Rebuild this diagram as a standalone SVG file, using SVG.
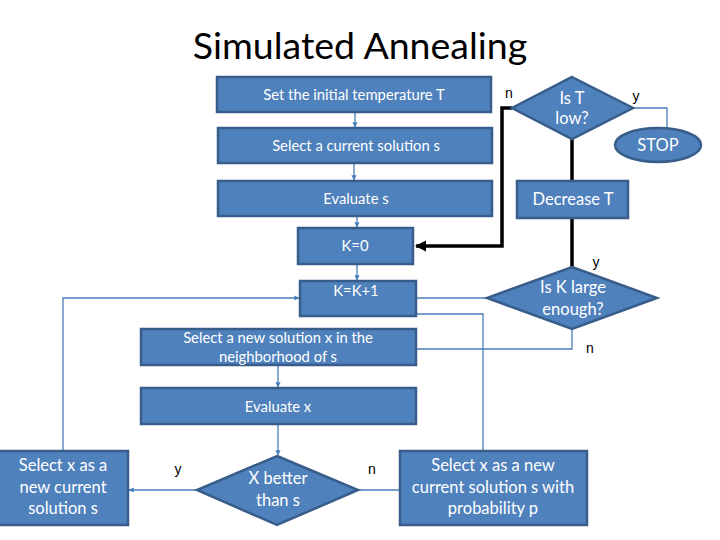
<svg xmlns="http://www.w3.org/2000/svg" width="720" height="540" viewBox="0 0 720 540">
<defs>
<style>
.box{fill:#4F81BD;stroke:#385D8A;stroke-width:2.5}
.t{fill:#ffffff;font-family:Lato,"Liberation Sans",sans-serif;text-anchor:middle}
.s13{font-size:14.8px}
.s15{font-size:16.5px}
.lbl{fill:#000;font-family:"Liberation Sans",Arial,sans-serif;font-size:14px;text-anchor:middle}
.thin{fill:none;stroke:#4A7EBB;stroke-width:1.3}
.thick{fill:none;stroke:#000;stroke-width:3.5}
</style>
<marker id="ab" viewBox="0 0 10 10" refX="9" refY="5" markerWidth="4" markerHeight="4" orient="auto"><path d="M0,0 L10,5 L0,10 z" fill="#4A7EBB"/></marker>
<marker id="ak" viewBox="0 0 10 10" refX="9" refY="5" markerWidth="3.2" markerHeight="3.2" orient="auto"><path d="M0,0 L10,5 L0,10 z" fill="#000"/></marker>
</defs>
<rect width="720" height="540" fill="#ffffff"/>
<text x="360" y="59" font-family="Lato,'Liberation Sans',sans-serif" font-size="37.5" text-anchor="middle" fill="#000">Simulated Annealing</text>

<g id="connectors">
<path class="thin" d="M355,112 V127" marker-end="url(#ab)"/>
<path class="thin" d="M354,163 V180" marker-end="url(#ab)"/>
<path class="thin" d="M357,216 V227" marker-end="url(#ab)"/>
<path class="thin" d="M357,264 V280" marker-end="url(#ab)"/>
<path class="thin" d="M633,108 H667 V128"/>
<path class="thick" d="M512,108 H502 V246 H416" marker-end="url(#ak)"/>
<path class="thick" d="M572,139 V181"/>
<path class="thick" d="M572,218 V267"/>
<path class="thin" d="M63,451 V298 H299" marker-end="url(#ab)"/>
<path class="thin" d="M416,298 H487"/>
<path class="thin" d="M483,451 V314 H417"/>
<path class="thin" d="M572,329 V349 H416"/>
<path class="thin" d="M278,365 V387" marker-end="url(#ab)"/>
<path class="thin" d="M278,424 V455" marker-end="url(#ab)"/>
<path class="thin" d="M197,490 H129" marker-end="url(#ab)"/>
<path class="thin" d="M358,490 H400"/>
</g>

<g id="n-set-temp"><rect class="box" x="217" y="77" width="274" height="35"/><text class="t s13" x="354" y="100">Set the initial temperature T</text></g>
<g id="n-select-current"><rect class="box" x="218" y="128" width="274" height="35"/><text class="t s13" x="356" y="151">Select a current solution s</text></g>
<g id="n-evaluate-s"><rect class="box" x="218" y="181" width="274" height="35"/><text class="t s13" x="356" y="204">Evaluate s</text></g>
<g id="n-k0"><rect class="box" x="298" y="228" width="115" height="36"/><text class="t s13" x="355" y="251">K=0</text></g>
<g id="n-kk1"><rect class="box" x="300" y="281" width="116" height="35"/><text class="t s13" x="356" y="296">K=K+1</text></g>
<g id="n-select-new"><rect class="box" x="141" y="329" width="275" height="36"/><text class="t s13" x="278" y="343">Select a new solution x in the</text><text class="t s13" x="278" y="362">neighborhood of s</text></g>
<g id="n-evaluate-x"><rect class="box" x="141" y="388" width="275" height="36"/><text class="t s13" x="278" y="412">Evaluate x</text></g>
<g id="n-select-x-new"><rect class="box" x="-2" y="451" width="130" height="74"/><text class="t s15" x="63" y="471">Select x as a</text><text class="t s15" x="63" y="493">new current</text><text class="t s15" x="63" y="514">solution s</text></g>
<g id="n-x-better"><polygon class="box" points="277,456 358,490 277,525 197,490"/><text class="t s15" x="278" y="484">X better</text><text class="t s15" x="278" y="506">than s</text></g>
<g id="n-select-prob"><rect class="box" x="400" y="451" width="187" height="74"/><text class="t s15" x="493" y="471">Select x as a new</text><text class="t s15" x="493" y="493">current solution s with</text><text class="t s15" x="493" y="514">probability p</text></g>
<g id="n-is-t-low"><polygon class="box" points="572,77 633,108 572,139 512,108"/><text class="t s15" x="572" y="104">Is T</text><text class="t s15" x="572" y="124">low?</text></g>
<g id="n-stop"><ellipse class="box" cx="658" cy="145" rx="43" ry="17"/><text class="t s15" x="658" y="151">STOP</text></g>
<g id="n-decrease"><rect class="box" x="517" y="181" width="111" height="37"/><text class="t s15" x="573" y="205">Decrease T</text></g>
<g id="n-is-k-large"><polygon class="box" points="572,267 657,298 572,329 487,298"/><text class="t s15" x="573" y="293">Is K large</text><text class="t s15" x="573" y="315">enough?</text></g>

<g id="labels">
<text class="lbl" x="509" y="98">n</text>
<text class="lbl" x="636" y="101">y</text>
<text class="lbl" x="596" y="267">y</text>
<text class="lbl" x="590" y="353">n</text>
<text class="lbl" x="178" y="474">y</text>
<text class="lbl" x="372" y="474">n</text>
</g>
</svg>
